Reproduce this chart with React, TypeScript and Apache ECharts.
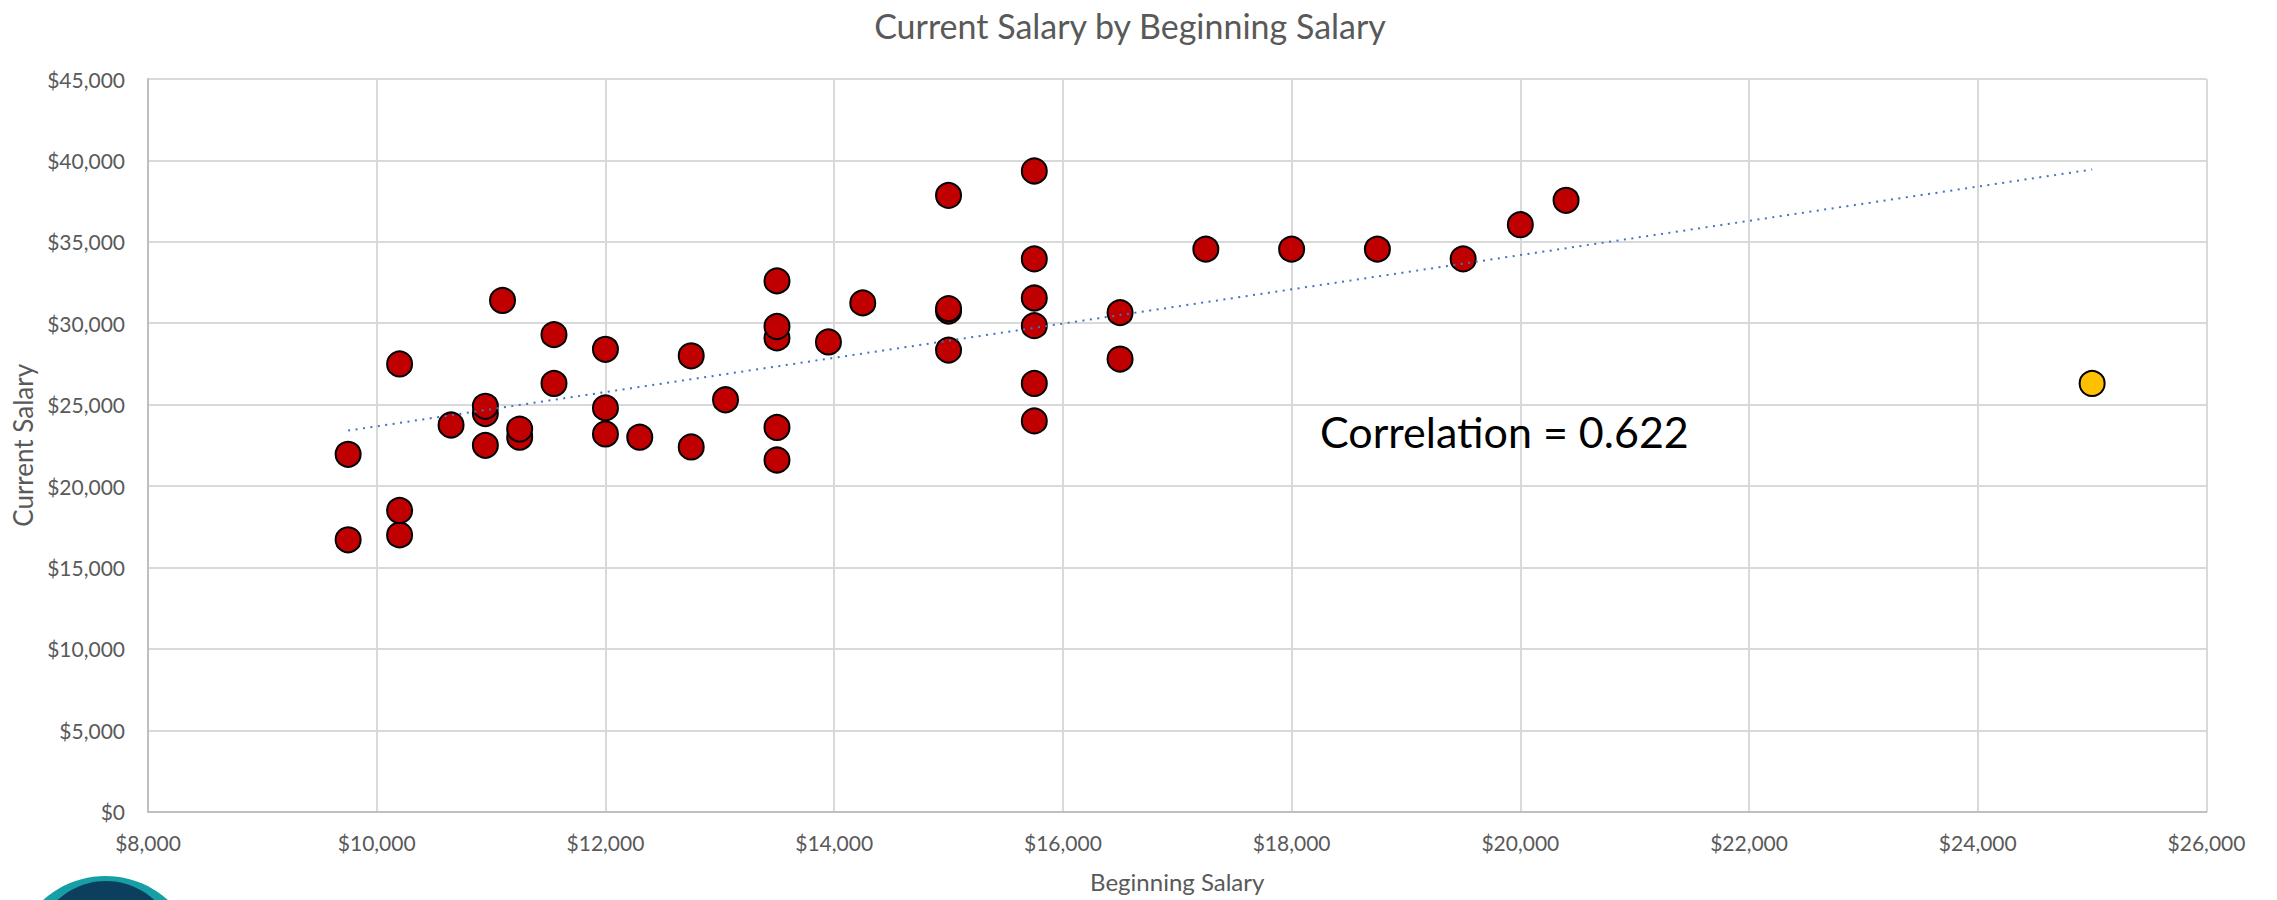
import React, { useEffect, useRef } from "react";
import * as echarts from "echarts";

// ---- data ----
const beginningSalary = [
  9750, 9750, 10200, 10200, 10200, 10650, 10950, 10950, 10950, 11100, 11250, 11250,
  11550, 11550, 12000, 12000, 12000, 12300, 12750, 12750, 13050, 13500, 13500, 13500,
  13500, 13500, 13950, 14250, 15000, 15000, 15000, 15000, 15750, 15750, 15750, 15750,
  15750, 15750, 16500, 16500, 17250, 18000, 18750, 19500, 20000, 20400,
];
const currentSalary = [
  16700, 21950, 17000, 18500, 27500, 23750, 22500, 24450, 24900, 31400, 23000, 23500,
  26300, 29300, 23200, 24800, 28400, 23000, 22400, 28000, 25300, 21600, 23600, 29100,
  29800, 32600, 28850, 31250, 28350, 30750, 30900, 37850, 24000, 26300, 29850, 31550,
  33950, 39350, 27800, 30650, 34550, 34550, 34550, 33950, 36050, 37550,
];
const outlierBeginning = [25000];
const outlierCurrent = [26300];

const xTicks = { min: 8000, max: 26000, interval: 2000 };
const yTicks = { min: 0, max: 45000, interval: 5000 };
const correlationLabel = "Correlation = 0.622";

const FONT = "Lato, 'Noto Sans', sans-serif";
const money = (v: number) => "$" + Math.round(v).toLocaleString("en-US");

function regression(xs: number[], ys: number[]) {
  const n = xs.length;
  const mx = xs.reduce((a, b) => a + b, 0) / n;
  const my = ys.reduce((a, b) => a + b, 0) / n;
  let sxy = 0;
  let sxx = 0;
  for (let i = 0; i < n; i++) {
    sxy += (xs[i] - mx) * (ys[i] - my);
    sxx += (xs[i] - mx) * (xs[i] - mx);
  }
  const slope = sxy / sxx;
  return { slope, intercept: my - slope * mx };
}

export default function App() {
  const ref = useRef<HTMLDivElement>(null);

  useEffect(() => {
    document.body.style.margin = "0";
    document.body.style.overflow = "hidden";
    if (!ref.current) return;
    const chart = echarts.init(ref.current, undefined, { renderer: "svg" });

    const allX = [...beginningSalary, ...outlierBeginning];
    const allY = [...currentSalary, ...outlierCurrent];
    const { slope, intercept } = regression(allX, allY);
    const minX = Math.min(...allX);
    const maxX = Math.max(...allX);
    const trend = [
      [minX, intercept + slope * minX],
      [maxX, intercept + slope * maxX],
    ];

    const marker = (color: string) => ({
      color,
      borderColor: "#000000",
      borderWidth: 2,
      opacity: 1,
    });

    chart.setOption({
      animation: false,
      backgroundColor: "#ffffff",
      title: {
        text: "Current Salary by Beginning Salary",
        left: 1125,
        top: 3,
        textAlign: "center",
        textStyle: {
          fontFamily: FONT,
          fontSize: 34,
          fontWeight: "normal",
          color: "#595959",
        },
      },
      grid: { left: 148, right: 70.5, top: 79, bottom: 88.3, containLabel: false },
      xAxis: {
        type: "value",
        min: xTicks.min,
        max: xTicks.max,
        interval: xTicks.interval,
        name: "Beginning Salary",
        nameLocation: "middle",
        nameGap: 58,
        nameTextStyle: { fontFamily: FONT, fontSize: 24, color: "#595959" },
        axisLine: { show: true, onZero: false, lineStyle: { color: "#BFBFBF", width: 2 } },
        axisTick: { show: false },
        axisLabel: {
          formatter: money,
          fontFamily: FONT,
          fontSize: 21,
          color: "#595959",
          margin: 20,
        },
        splitLine: { show: true, lineStyle: { color: "#D9D9D9", width: 2 } },
      },
      yAxis: {
        type: "value",
        min: yTicks.min,
        max: yTicks.max,
        interval: yTicks.interval,
        name: "Current Salary",
        nameLocation: "middle",
        nameGap: 112,
        nameTextStyle: { fontFamily: FONT, fontSize: 26, color: "#595959" },
        axisLine: { show: true, lineStyle: { color: "#BFBFBF", width: 2 } },
        axisTick: { show: false },
        axisLabel: {
          formatter: money,
          fontFamily: FONT,
          fontSize: 21,
          color: "#595959",
          margin: 23,
        },
        splitLine: { show: true, lineStyle: { color: "#D9D9D9", width: 2 } },
      },
      series: [
        {
          name: "Outlier",
          type: "scatter",
          symbol: "circle",
          symbolSize: 25,
          data: outlierBeginning.map((x, i) => [x, outlierCurrent[i]]),
          itemStyle: marker("#FFC000"),
          z: 3,
        },
        {
          name: "Employees",
          type: "scatter",
          symbol: "circle",
          symbolSize: 25,
          data: beginningSalary.map((x, i) => [x, currentSalary[i]]),
          itemStyle: marker("#C00000"),
          z: 3,
        },
        {
          name: "Trend",
          type: "line",
          data: trend,
          showSymbol: false,
          symbol: "none",
          lineStyle: { color: "#4472C4", width: 2, type: [2, 5.5] },
          z: 5,
        },
      ],
      graphic: [
        {
          type: "text",
          left: 1320,
          top: 410,
          style: {
            text: correlationLabel,
            fontFamily: FONT,
            fontSize: 43,
            fill: "#000000",
          },
          z: 10,
        },
        {
          type: "circle",
          shape: { cx: 105.5, cy: 969, r: 93 },
          style: { fill: "#16A0A5" },
          z: 10,
        },
        {
          type: "circle",
          shape: { cx: 106, cy: 952, r: 71 },
          style: { fill: "#0C3E5E" },
          z: 11,
        },
      ],
    });

    return () => chart.dispose();
  }, []);

  return <div ref={ref} style={{ width: 2277, height: 900 }} />;
}
